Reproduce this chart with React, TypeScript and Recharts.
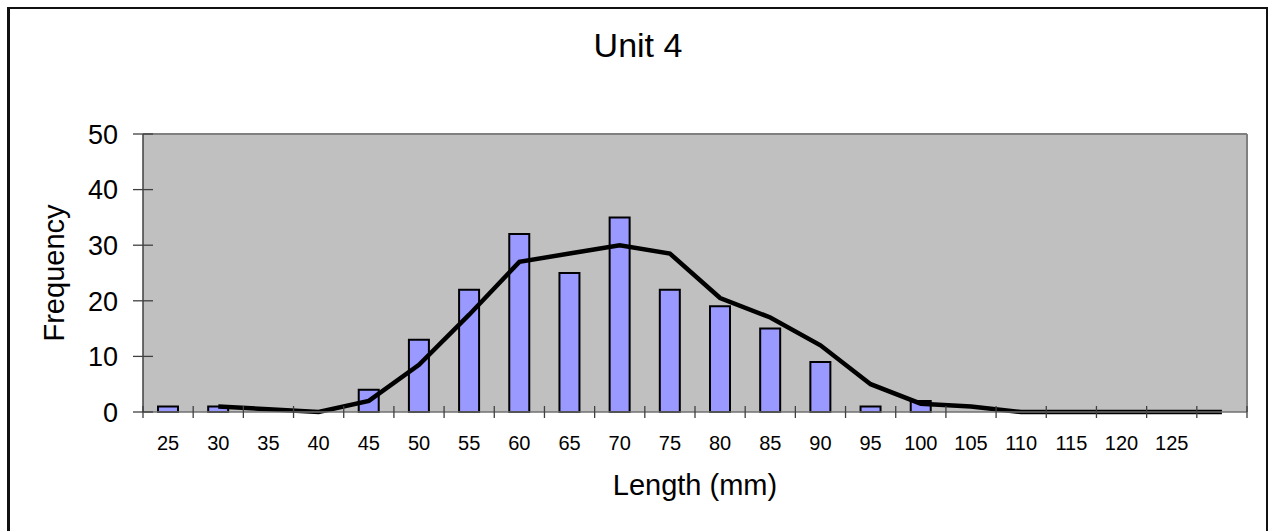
import React from 'react';
import { ComposedChart, Bar, Line, XAxis, YAxis, CartesianGrid } from 'recharts';

const categories = ['25', '30', '35', '40', '45', '50', '55', '60', '65', '70', '75', '80', '85', '90', '95', '100', '105', '110', '115', '120', '125', ''];
const frequencyValues = [1, 1, 0, 0, 4, 13, 22, 32, 25, 35, 22, 19, 15, 9, 1, 2, 0, 0, 0, 0, 0, 0];
const trendValues: (number | null)[] = [null, 1, 0.5, 0, 2, 8.5, 17.5, 27, 28.5, 30, 28.5, 20.5, 17, 12, 5, 1.5, 1, 0, 0, 0, 0, 0];
const yTicks = [0, 10, 20, 30, 40, 50];

const title = 'Unit 4';
const xTitle = 'Length (mm)';
const yTitle = 'Frequency';

const data = categories.map((c, i) => ({ label: c, freq: frequencyValues[i], trend: trendValues[i] }));

const W = 1270;
const H = 531;
const Y_AXIS_W = 60;
const X_AXIS_H = 60;
const MARGIN = { top: 134, right: 23, left: 143 - Y_AXIS_W, bottom: 119 - X_AXIS_H };
const FONT = '"Liberation Sans", Arial, Helvetica, sans-serif';
const AXIS_COLOR = '#404040';

function XTick(props: any) {
  const { x, y, payload, index, visibleTicksCount } = props;
  const count = visibleTicksCount || categories.length;
  const plotW = W - 143 - MARGIN.right;
  const half = plotW / count / 2;
  return (
    <g>
      <line x1={x - half} x2={x - half} y1={y - 6} y2={y + 6} stroke={AXIS_COLOR} strokeWidth={1.3} />
      {index === count - 1 ? (
        <line x1={x + half} x2={x + half} y1={y - 6} y2={y + 6} stroke={AXIS_COLOR} strokeWidth={1.3} />
      ) : null}
      <text x={x} y={y + 38} textAnchor="middle" fontSize={20} fontFamily={FONT} fill="#000">
        {payload.value}
      </text>
    </g>
  );
}

function YTick(props: any) {
  const { x, y, payload } = props;
  return (
    <g>
      <line x1={x - 10} x2={x + 10} y1={y} y2={y} stroke={AXIS_COLOR} strokeWidth={1.3} />
      <text x={x - 25} y={y + 9.7} textAnchor="end" fontSize={27} fontFamily={FONT} fill="#000">
        {payload.value}
      </text>
    </g>
  );
}

export default function App() {
  return (
    <div style={{ position: 'relative', width: W, height: H, overflow: 'hidden', background: '#fff' }}>
      <style>{'body{margin:0;overflow:hidden;}'}</style>
      <div
        style={{
          position: 'absolute',
          left: 7,
          top: 7,
          width: 1261,
          height: 600,
          boxSizing: 'border-box',
          borderTop: '2px solid #111',
          borderLeft: '3px solid #111',
          borderRight: '2px solid #111',
        }}
      />
      <div style={{ position: 'absolute', left: 0, top: 0 }}>
        <ComposedChart width={W} height={H} data={data} margin={MARGIN} barSize={20}>
          <CartesianGrid
            fill="#C0C0C0"
            stroke="#808080"
            strokeWidth={2}
            horizontalCoordinatesGenerator={(p: any) => [p.offset.top]}
            verticalCoordinatesGenerator={(p: any) => [p.offset.left + p.offset.width]}
          />
          <Bar dataKey="freq" fill="#9999FF" stroke="#000" strokeWidth={2} isAnimationActive={false} />
          <Line
            dataKey="trend"
            type="linear"
            stroke="#000"
            strokeWidth={4.5}
            dot={false}
            activeDot={false}
            connectNulls={false}
            isAnimationActive={false}
          />
          <XAxis
            dataKey="label"
            type="category"
            interval={0}
            height={X_AXIS_H}
            tickSize={0}
            tickMargin={0}
            tickLine={false}
            axisLine={{ stroke: '#707070', strokeWidth: 1.5 }}
            tick={<XTick />}
          />
          <YAxis
            type="number"
            domain={[0, 50]}
            ticks={yTicks}
            width={Y_AXIS_W}
            tickSize={0}
            tickMargin={0}
            tickLine={false}
            axisLine={{ stroke: AXIS_COLOR, strokeWidth: 1.5 }}
            tick={<YTick />}
            interval={0}
          />
        </ComposedChart>
      </div>
      <svg width={W} height={H} style={{ position: 'absolute', left: 0, top: 0, pointerEvents: 'none' }}>
        <text x={638} y={57} textAnchor="middle" fontSize={34} fontFamily={FONT} fill="#000">
          {title}
        </text>
        <text x={695} y={495} textAnchor="middle" fontSize={29} fontFamily={FONT} fill="#000">
          {xTitle}
        </text>
        <text
          x={63.5}
          y={273}
          textAnchor="middle"
          fontSize={29}
          fontFamily={FONT}
          fill="#000"
          transform="rotate(-90 63.5 273)"
        >
          {yTitle}
        </text>
      </svg>
    </div>
  );
}
